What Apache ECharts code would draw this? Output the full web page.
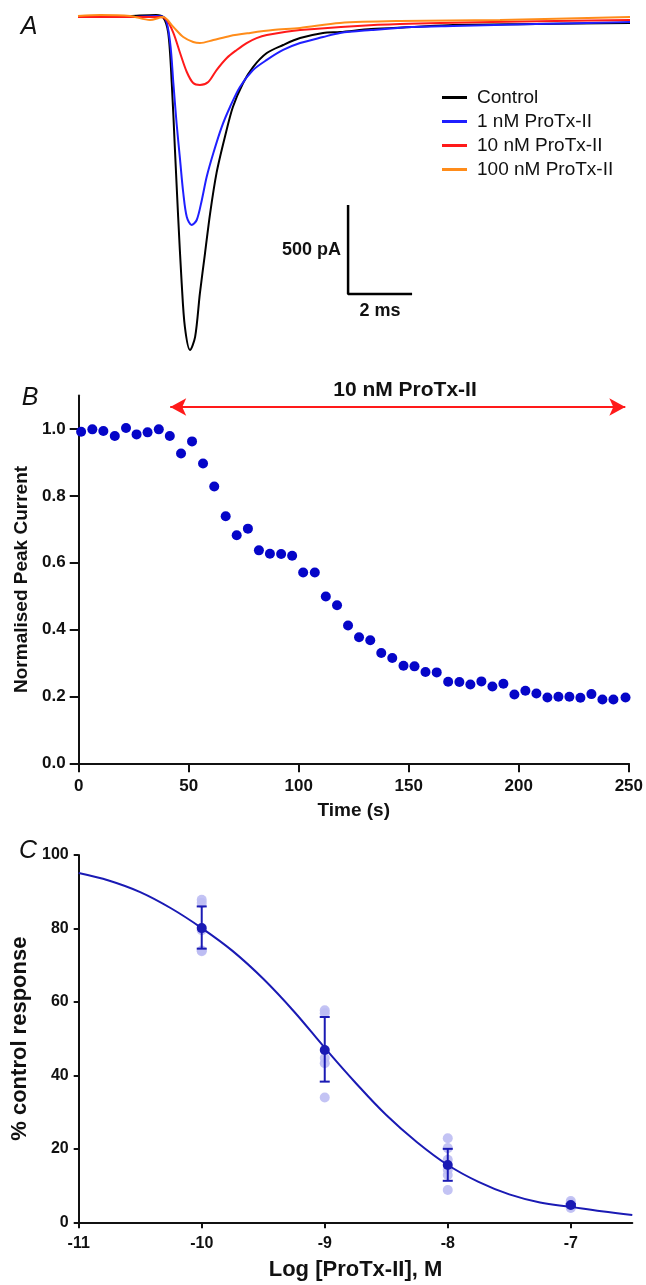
<!DOCTYPE html>
<html>
<head>
<meta charset="utf-8">
<script src="https://cdn.jsdelivr.net/npm/echarts@6/dist/echarts.min.js"></script>
<style>
  html, body { margin: 0; padding: 0; background: #fff; }
  #main { width: 646px; height: 1285px; }
</style>
</head>
<body>
<div id="main"></div>
<script>
// ---- panel A: current traces, [time (ms), current (pA)] ----
const controlTrace = [
  [0, 2], [0.69, 1], [1.63, 6], [2.44, 12], [2.66, 0], [2.82, -89], [2.93, -371], [3.03, -748],
  [3.13, -1125], [3.24, -1497], [3.34, -1744], [3.5, -1874], [3.66, -1800], [3.81, -1553],
  [3.97, -1328], [4.13, -1103], [4.33, -877], [4.59, -675], [4.84, -506], [5.16, -371],
  [5.47, -281], [5.9, -202], [6.41, -157], [6.94, -118], [7.66, -89], [8.19, -84], [9.16, -67],
  [10.44, -56], [11.72, -44], [14.31, -39], [17.25, -33]
];
const proTx1Trace = [
  [0, 0], [1.63, 0], [2.44, 6], [2.72, -5], [2.88, -146], [2.98, -371], [3.08, -596], [3.19, -804],
  [3.29, -990], [3.4, -1125], [3.55, -1170], [3.71, -1142], [3.87, -1029], [4.02, -900],
  [4.23, -765], [4.49, -619], [4.75, -506], [5.06, -393], [5.47, -298], [5.9, -241], [6.41, -185],
  [6.94, -146], [7.66, -112], [8.19, -89], [9.16, -73], [10.44, -56], [11.72, -50], [14.31, -39],
  [17.25, -28]
];
const proTx10Trace = [
  [0, 0], [2.56, 0], [2.77, -16], [2.98, -89], [3.19, -202], [3.4, -309], [3.6, -371], [3.81, -382],
  [4.07, -365], [4.33, -298], [4.65, -230], [4.96, -185], [5.27, -146], [5.58, -118], [5.9, -101],
  [6.94, -73], [10.06, -39], [17.25, -16]
];
const proTx100Trace = [
  [0, 6], [0.69, 12], [1.63, 6], [2.25, -16], [2.66, 0], [2.98, -56], [3.29, -112], [3.6, -140],
  [3.81, -146], [4.23, -129], [4.75, -106], [5.38, -89], [6.09, -73], [6.94, -61], [8.19, -33],
  [10.06, -22], [13.19, -16], [17.25, 1]
];
const traceNames = ['Control', '1 nM ProTx-II', '10 nM ProTx-II', '100 nM ProTx-II'];
const traceColors = ['#000000', '#1f1fff', '#ff1a1a', '#ff8c1a'];
const scaleBar = [[8.44, -1057], [8.44, -1558], [10.44, -1558]];

// ---- panel B: time course ----
const timeS = [1.1, 6.2, 11.2, 16.4, 21.5, 26.3, 31.3, 36.4, 41.4, 46.5, 51.5, 56.5, 61.6, 66.8,
  71.8, 76.9, 81.9, 86.9, 92, 97, 102, 107.3, 112.3, 117.4, 122.4, 127.4, 132.5, 137.5, 142.5,
  147.6, 152.6, 157.6, 162.7, 167.9, 173, 178, 183, 188, 193, 198, 203, 208, 213, 218, 223, 228,
  233, 238, 243, 248.5];
const peakCurrent = [0.992, 0.999, 0.994, 0.979, 1.003, 0.984, 0.99, 0.999, 0.979, 0.927, 0.963,
  0.897, 0.828, 0.739, 0.682, 0.702, 0.637, 0.627, 0.626, 0.621, 0.571, 0.571, 0.499, 0.473,
  0.412, 0.377, 0.368, 0.33, 0.315, 0.292, 0.29, 0.273, 0.272, 0.244, 0.243, 0.236, 0.245, 0.23,
  0.238, 0.206, 0.217, 0.209, 0.197, 0.199, 0.199, 0.196, 0.207, 0.191, 0.191, 0.197];
const drugStart = 41.6, drugEnd = 248.4, drugLevel = 1.066;
const bTicks = [0, 0.2, 0.4, 0.6, 0.8, 1.0];

// ---- panel C: concentration-response ----
const logConc = [-10, -9, -8, -7];
const meanResp = [80.1, 46.9, 15.6, 4.7];
const semLow = [74.5, 38.3, 11.3, 4.4];
const semHigh = [86.0, 55.9, 20.0, 5.0];
const cellX = [-10, -10, -10, -10, -10, -9, -9, -9, -9, -9, -8, -8, -8, -8, -8, -8, -7, -7, -7, -7];
const cellY = [87.8, 86.9, 79.5, 74.0, 73.8, 57.7, 56.9, 44.7, 43.3, 34.0, 22.9, 20.2, 17.0, 14.3,
  12.9, 8.8, 5.8, 5.2, 4.3, 3.9];
const fitX = [-11, -10.75, -10.5, -10.25, -10, -9.75, -9.5, -9.25, -9, -8.75, -8.5, -8.25, -8,
  -7.75, -7.5, -7.25, -7, -6.75, -6.5];
const fitY = [95.1, 93.0, 89.9, 85.5, 80.1, 73.9, 66.3, 57.4, 47.5, 38.0, 29.2, 21.8, 15.6, 11.0,
  7.6, 5.4, 4.2, 3.0, 2.0];
const cTicksX = [-11, -10, -9, -8, -7];

const font = 'Liberation Sans, Arial, sans-serif';
const ink = '#111';
const dotBlue = '#0505c8';
const fitBlue = '#1a1ab4';

function axisStyle(extra) {
  return Object.assign({
    axisLine: { show: true, onZero: false, lineStyle: { color: ink, width: 2 } },
    axisTick: { show: true, inside: false, length: 9, lineStyle: { color: ink, width: 2 } },
    axisLabel: { color: ink, fontFamily: font, fontWeight: 'bold', fontSize: 16 },
    splitLine: { show: false },
    nameTextStyle: { color: ink, fontFamily: font, fontWeight: 'bold', fontSize: 19 }
  }, extra);
}

const chart = echarts.init(document.getElementById('main'));

const traceSeries = [controlTrace, proTx1Trace, proTx10Trace, proTx100Trace].map(function (d, i) {
  return {
    name: traceNames[i], type: 'line', xAxisIndex: 0, yAxisIndex: 0, data: d,
    smooth: 0.3, showSymbol: false, color: traceColors[i],
    lineStyle: { width: 2, color: traceColors[i] }, z: 2 + i
  };
});

const option = {
  animation: false,
  backgroundColor: '#fff',
  grid: [
    { left: 78, width: 554, top: 10, height: 350 },
    { left: 78.7, right: 14.5, top: 395.6, height: 367.7 },
    { left: 78.7, right: 13.7, top: 855, height: 367.3 }
  ],
  legend: {
    data: traceNames, orient: 'vertical', left: 437, top: 83, icon: 'rect',
    itemWidth: 25, itemHeight: 3, itemGap: 5, selectedMode: false,
    textStyle: { color: ink, fontFamily: font, fontSize: 19, padding: [0, 0, 0, 5] }
  },
  xAxis: [
    { gridIndex: 0, type: 'value', min: 0, max: 17.3125, show: false },
    axisStyle({
      gridIndex: 1, type: 'value', min: 0, max: 250, interval: 50,
      name: 'Time (s)', nameLocation: 'middle', nameGap: 38,
      axisLabel: { color: ink, fontFamily: font, fontWeight: 'bold', fontSize: 17, margin: 15 }
    }),
    axisStyle({
      gridIndex: 2, type: 'value', min: -11, max: -6.5, interval: 1,
      name: 'Log [ProTx-II], M', nameLocation: 'middle', nameGap: 37,
      nameTextStyle: { color: ink, fontFamily: font, fontWeight: 'bold', fontSize: 22 },
      axisTick: { show: true, length: 6, lineStyle: { color: ink, width: 2 }, customValues: cTicksX },
      axisLabel: { color: ink, fontFamily: font, fontWeight: 'bold', fontSize: 16, margin: 13,
        customValues: cTicksX }
    })
  ],
  yAxis: [
    { gridIndex: 0, type: 'value', min: -1930, max: 40, show: false },
    axisStyle({
      gridIndex: 1, type: 'value', min: 0, max: 1.1,
      name: 'Normalised Peak Current', nameLocation: 'middle', nameGap: 44,
      axisTick: { show: true, length: 9, lineStyle: { color: ink, width: 2 }, customValues: bTicks },
      axisLabel: { color: ink, fontFamily: font, fontWeight: 'bold', fontSize: 17, margin: 13,
        customValues: bTicks, formatter: function (v) { return v.toFixed(1); } }
    }),
    axisStyle({
      gridIndex: 2, type: 'value', min: 0, max: 100, interval: 20,
      name: '% control response', nameLocation: 'middle', nameGap: 47,
      nameTextStyle: { color: ink, fontFamily: font, fontWeight: 'bold', fontSize: 22 },
      axisTick: { show: true, length: 5, lineStyle: { color: ink, width: 2 } },
      axisLabel: { color: ink, fontFamily: font, fontWeight: 'bold', fontSize: 16, margin: 10 }
    })
  ],
  series: traceSeries.concat([
    {
      name: 'scale', type: 'line', xAxisIndex: 0, yAxisIndex: 0, data: scaleBar,
      showSymbol: false, lineStyle: { color: '#000', width: 2.5 }, z: 10
    },
    {
      name: 'peak', type: 'scatter', xAxisIndex: 1, yAxisIndex: 1,
      data: timeS.map(function (t, i) { return [t, peakCurrent[i]]; }),
      symbolSize: 10, itemStyle: { color: dotBlue, opacity: 1 },
      markLine: {
        silent: true, symbol: ['arrow', 'arrow'], symbolSize: [13, 16],
        lineStyle: { color: '#ff1a1a', width: 2, type: 'solid' }, label: { show: false },
        data: [[{ coord: [drugStart, drugLevel] }, { coord: [drugEnd, drugLevel] }]]
      }
    },
    {
      name: 'cells', type: 'scatter', xAxisIndex: 2, yAxisIndex: 2,
      data: cellX.map(function (x, i) { return [x, cellY[i]]; }),
      symbolSize: 10, itemStyle: { color: '#bcbcf3', opacity: 0.9 }, z: 2
    },
    {
      name: 'fit', type: 'line', xAxisIndex: 2, yAxisIndex: 2,
      data: fitX.map(function (x, i) { return [x, fitY[i]]; }),
      smooth: 0.4, showSymbol: false, lineStyle: { color: fitBlue, width: 2 }, z: 3
    },
    {
      name: 'sem', type: 'custom', xAxisIndex: 2, yAxisIndex: 2,
      data: logConc.map(function (x, i) { return [x, semLow[i], semHigh[i]]; }),
      encode: { x: 0, y: [1, 2] },
      renderItem: function (params, api) {
        const lo = api.coord([api.value(0), api.value(1)]);
        const hi = api.coord([api.value(0), api.value(2)]);
        const w = 5;
        const st = { stroke: fitBlue, lineWidth: 2 };
        return {
          type: 'group', children: [
            { type: 'line', shape: { x1: lo[0], y1: lo[1], x2: hi[0], y2: hi[1] }, style: st },
            { type: 'line', shape: { x1: hi[0] - w, y1: hi[1], x2: hi[0] + w, y2: hi[1] }, style: st },
            { type: 'line', shape: { x1: lo[0] - w, y1: lo[1], x2: lo[0] + w, y2: lo[1] }, style: st }
          ]
        };
      },
      z: 4
    },
    {
      name: 'mean', type: 'scatter', xAxisIndex: 2, yAxisIndex: 2,
      data: logConc.map(function (x, i) { return [x, meanResp[i]]; }),
      symbolSize: 10, itemStyle: { color: fitBlue, opacity: 1 }, z: 5
    }
  ]),
  graphic: [
    { type: 'text', x: 29, y: 27, style: { text: 'A', font: 'italic 25px ' + font, fill: ink, align: 'center', verticalAlign: 'middle' } },
    { type: 'text', x: 30, y: 398, style: { text: 'B', font: 'italic 25px ' + font, fill: ink, align: 'center', verticalAlign: 'middle' } },
    { type: 'text', x: 28, y: 851, style: { text: 'C', font: 'italic 25px ' + font, fill: ink, align: 'center', verticalAlign: 'middle' } },
    { type: 'text', x: 341, y: 250, style: { text: '500 pA', font: 'bold 18px ' + font, fill: ink, align: 'right', verticalAlign: 'middle' } },
    { type: 'text', x: 380, y: 311, style: { text: '2 ms', font: 'bold 18px ' + font, fill: ink, align: 'center', verticalAlign: 'middle' } },
    { type: 'text', x: 405, y: 390, style: { text: '10 nM ProTx-II', font: 'bold 21px ' + font, fill: ink, align: 'center', verticalAlign: 'middle' } }
  ]
};

option && chart.setOption(option);
</script>
</body>
</html>
